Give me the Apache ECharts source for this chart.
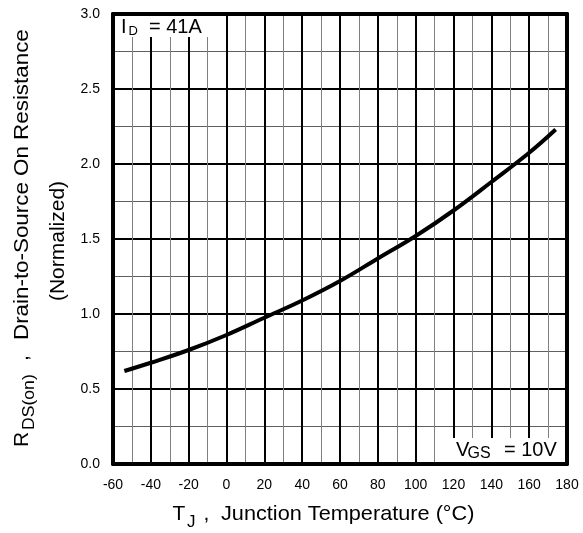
<!DOCTYPE html>
<html><head><meta charset="utf-8">
<script src="https://cdn.jsdelivr.net/npm/echarts@6/dist/echarts.min.js"></script>
<style>html,body{margin:0;padding:0;background:#fff}#c{width:583px;height:533px}</style>
</head><body><div id="c"></div>
<script>
// ---- data ----
const tempC   = [-54, -40, -20, 0, 20, 40, 60, 80, 100, 120, 140, 160, 174];
const rdsNorm = [0.62, 0.675, 0.76, 0.86, 0.975, 1.09, 1.22, 1.37, 1.52, 1.69, 1.88, 2.075, 2.23];
const xTickValues = [-60, -40, -20, 0, 20, 40, 60, 80, 100, 120, 140, 160, 180];
const yTickLabels = ['0.0', '0.5', '1.0', '1.5', '2.0', '2.5', '3.0'];
const idLabel  = ['I', 'D', '= 41A'];
const vgsLabel = ['V', 'GS', '= 10V'];
const xTitle   = ['T', 'J', ',', 'Junction Temperature (°C)'];
const yTitle   = ['R', 'DS(on)', ',', 'Drain-to-Source On Resistance', '(Normalized)'];

const FONT = "'Liberation Sans', Arial, sans-serif";
const xMin = xTickValues[0], xMax = xTickValues[xTickValues.length - 1];
const xStep = xTickValues[1] - xTickValues[0];
const yVals = yTickLabels.map(parseFloat);
const yMin = yVals[0], yMax = yVals[yVals.length - 1], yStep = yVals[1] - yVals[0];

const chart = echarts.init(document.getElementById('c'), null, { renderer: 'canvas' });

const borderAxis = { show: true, onZero: false, lineStyle: { color: '#000', width: 4 } };

const option = {
  animation: false,
  backgroundColor: '#fff',
  grid: { left: 113, right: 16, top: 14, bottom: 69, outerBoundsMode: 'none', containLabel: false },
  xAxis: [{
    type: 'value', min: xMin, max: xMax, interval: xStep,
    axisLine: borderAxis, axisTick: { show: false },
    axisLabel: { color: '#000', fontFamily: FONT, fontSize: 14, margin: 14 },
    splitLine: { show: true, lineStyle: { color: '#000', width: 2 } },
    minorTick: { show: false, splitNumber: 2 },
    minorSplitLine: { show: true, lineStyle: { color: '#808080', width: 1 } },
    z: 2
  }, {
    type: 'value', position: 'top', min: xMin, max: xMax, interval: xStep,
    axisLine: borderAxis, axisTick: { show: false }, axisLabel: { show: false },
    splitLine: { show: false }, z: 4
  }],
  yAxis: [{
    type: 'value', min: yMin, max: yMax, interval: yStep,
    axisLine: borderAxis, axisTick: { show: false },
    axisLabel: { color: '#000', fontFamily: FONT, fontSize: 14, margin: 13,
      formatter: v => yTickLabels[Math.round((v - yMin) / yStep)] },
    splitLine: { show: true, lineStyle: { color: '#000', width: 2 } },
    minorTick: { show: false, splitNumber: 2 },
    minorSplitLine: { show: true, lineStyle: { color: '#606060', width: 1 } },
    z: 2
  }, {
    type: 'value', position: 'right', min: yMin, max: yMax, interval: yStep,
    axisLine: borderAxis, axisTick: { show: false }, axisLabel: { show: false },
    splitLine: { show: false }, z: 4
  }],
  series: [{
    type: 'line', xAxisIndex: 0, yAxisIndex: 0,
    data: tempC.map((t, i) => [t, rdsNorm[i]]),
    smooth: 0.4, showSymbol: false, symbol: 'none',
    lineStyle: { color: '#000', width: 4 }, z: 3
  }]
};
chart.setOption(option);

const tl = chart.convertToPixel({ gridIndex: 0 }, [xMin, yMax]);
const br = chart.convertToPixel({ gridIndex: 0 }, [xMax, yMin]);

function txt(text, x, y, size, opts) {
  opts = opts || {};
  return {
    type: 'text', x: x, y: y, z: 20,
    rotation: opts.rotation || 0, scaleX: opts.scaleX || 1,
    style: { text: text, fontFamily: FONT, fontSize: size, fill: '#000',
      align: opts.align || 'left', verticalAlign: 'middle' }
  };
}

const R90 = Math.PI / 2;
const graphics = [
  // I_D = 41A box
  { type: 'rect', z: 15, shape: { x: tl[0] + 2, y: tl[1] + 2, width: 93, height: 21 }, style: { fill: '#fff' } },
  txt(idLabel[0], tl[0] + 8, tl[1] + 13, 20),
  txt(idLabel[1], tl[0] + 15.5, tl[1] + 17.5, 13),
  txt(idLabel[2], tl[0] + 36, tl[1] + 13, 20),
  // V_GS = 10V box
  { type: 'rect', z: 15, shape: { x: br[0] - 116, y: br[1] - 26, width: 114, height: 24 }, style: { fill: '#fff' } },
  txt(vgsLabel[0], br[0] - 111, br[1] - 13.5, 20),
  txt(vgsLabel[1], br[0] - 99.5, br[1] - 10, 16),
  txt(vgsLabel[2], br[0] - 63, br[1] - 13.5, 20),
  // x title
  txt(xTitle[0], 172.5, 514.5, 21),
  txt(xTitle[1], 187, 522, 17),
  txt(xTitle[2], 203.5, 514.5, 21),
  txt(xTitle[3], 221, 514.5, 21, { scaleX: 1.033 }),
  // y title (rotated)
  txt(yTitle[0], 22, 447, 21, { rotation: R90 }),
  txt(yTitle[1], 29.5, 430, 16, { rotation: R90, scaleX: 1.1 }),
  txt(yTitle[2], 22, 361, 21, { rotation: R90 }),
  txt(yTitle[3], 22, 340, 21, { rotation: R90, scaleX: 1.065 }),
  txt(yTitle[4], 58.5, 241, 21, { rotation: R90, align: 'center' })
];
chart.setOption({ graphic: graphics });
</script>
</body></html>
